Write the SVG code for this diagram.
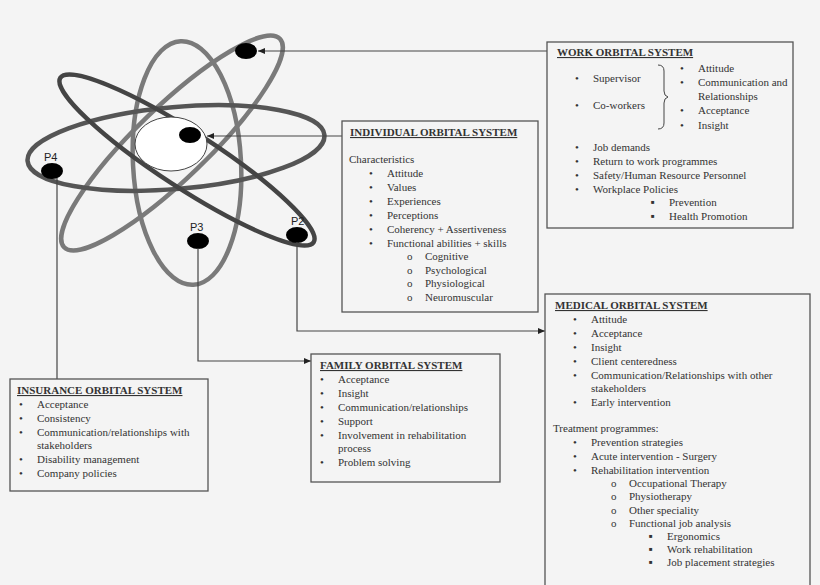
<svg xmlns="http://www.w3.org/2000/svg" width="820" height="585" viewBox="0 0 820 585">
<defs>
<marker id="ah" markerWidth="8" markerHeight="8" refX="7" refY="4" orient="auto" markerUnits="userSpaceOnUse"><path d="M0,1 L7,4 L0,7 Z" fill="#222"/></marker>
<style>
text{font-family:"Liberation Serif",serif;font-size:11px;fill:#333}
.t{font-weight:bold;text-decoration:underline}
.p{font-family:"Liberation Sans",sans-serif;font-size:11px;fill:#222}
.sq{font-size:6px}
.box{fill:#f4f4f4;stroke:#555;stroke-width:1.3}
.ln{fill:none;stroke:#444;stroke-width:1.2}
.orb{fill:none;stroke-width:4.5}
.dot{fill:#000}
</style>
</defs>
<rect width="820" height="585" fill="#f4f4f4"/>
<g id="atom">
<ellipse class="orb" cx="187" cy="163" rx="54" ry="122" transform="rotate(-3 187 163)" stroke="#7a7a7a"/>
<ellipse class="orb" cx="172" cy="143" rx="150" ry="36" transform="rotate(-44 172 143)" stroke="#7a7a7a"/>
<ellipse class="orb" cx="176" cy="148" rx="149" ry="41" transform="rotate(-5 176 148)" stroke="#555"/>
<ellipse class="orb" cx="187" cy="160" rx="151" ry="28" transform="rotate(33 187 160)" stroke="#444"/>
<ellipse cx="171" cy="144" rx="36" ry="27" fill="#fff" stroke="#444" stroke-width="1"/>
<ellipse class="dot" cx="190" cy="135" rx="11" ry="8"/>
<ellipse class="dot" cx="246" cy="51" rx="11" ry="8"/>
<ellipse class="dot" cx="52" cy="171" rx="11" ry="8"/>
<ellipse class="dot" cx="198" cy="241" rx="11" ry="8"/>
<ellipse class="dot" cx="297" cy="235" rx="11" ry="8"/>
<text class="p" x="44" y="161">P4</text>
<text class="p" x="190" y="231">P3</text>
<text class="p" x="291" y="225">P2</text>
</g>
<g id="connectors">
<line class="ln" x1="548" y1="51" x2="258" y2="51" marker-end="url(#ah)"/>
<line class="ln" x1="342" y1="136" x2="207" y2="136" marker-end="url(#ah)"/>
<line class="ln" x1="57" y1="178" x2="57" y2="379"/>
<polyline class="ln" points="198,248 198,361 311,361" marker-end="url(#ah)"/>
<polyline class="ln" points="297,242 297,331 545,331" marker-end="url(#ah)"/>
</g>
<g id="work">
<rect class="box" x="547" y="42" width="246" height="186"/>
<text class="t" x="557" y="56">WORK ORBITAL SYSTEM</text>
<text x="575" y="82">•</text><text x="593" y="82">Supervisor</text>
<text x="575" y="109">•</text><text x="593" y="109">Co-workers</text>
<path d="M658,65 q6,0 6,6 v20 q0,5 4,6 q-4,1 -4,6 v20 q0,6 -6,6" fill="none" stroke="#444" stroke-width="1"/>
<text x="680" y="72">•</text><text x="698" y="72">Attitude</text>
<text x="680" y="86">•</text><text x="698" y="86">Communication and</text>
<text x="698" y="100">Relationships</text>
<text x="680" y="114">•</text><text x="698" y="114">Acceptance</text>
<text x="680" y="129">•</text><text x="698" y="129">Insight</text>
<text x="575" y="151">•</text><text x="593" y="151">Job demands</text>
<text x="575" y="165">•</text><text x="593" y="165">Return to work programmes</text>
<text x="575" y="179">•</text><text x="593" y="179">Safety/Human Resource Personnel</text>
<text x="575" y="193">•</text><text x="593" y="193">Workplace Policies</text>
<text class="sq" x="651" y="204">■</text><text x="669" y="206">Prevention</text>
<text class="sq" x="651" y="218">■</text><text x="669" y="220">Health Promotion</text>
</g>
<g id="individual">
<rect class="box" x="342" y="121" width="196" height="191"/>
<text class="t" x="350" y="136">INDIVIDUAL ORBITAL SYSTEM</text>
<text x="349" y="163">Characteristics</text>
<text x="369" y="177">•</text><text x="387" y="177">Attitude</text>
<text x="369" y="191">•</text><text x="387" y="191">Values</text>
<text x="369" y="205">•</text><text x="387" y="205">Experiences</text>
<text x="369" y="219">•</text><text x="387" y="219">Perceptions</text>
<text x="369" y="233">•</text><text x="387" y="233">Coherency + Assertiveness</text>
<text x="369" y="247">•</text><text x="387" y="247">Functional abilities + skills</text>
<text x="407" y="260">o</text><text x="425" y="260">Cognitive</text>
<text x="407" y="274">o</text><text x="425" y="274">Psychological</text>
<text x="407" y="287">o</text><text x="425" y="287">Physiological</text>
<text x="407" y="301">o</text><text x="425" y="301">Neuromuscular</text>
</g>
<g id="medical">
<rect class="box" x="545" y="294" width="265" height="300"/>
<text class="t" x="555" y="309">MEDICAL ORBITAL SYSTEM</text>
<text x="573" y="323">•</text><text x="591" y="323">Attitude</text>
<text x="573" y="337">•</text><text x="591" y="337">Acceptance</text>
<text x="573" y="351">•</text><text x="591" y="351">Insight</text>
<text x="573" y="365">•</text><text x="591" y="365">Client centeredness</text>
<text x="573" y="379">•</text><text x="591" y="379">Communication/Relationships with other</text>
<text x="591" y="392">stakeholders</text>
<text x="573" y="406">•</text><text x="591" y="406">Early intervention</text>
<text x="553" y="432">Treatment programmes:</text>
<text x="573" y="446">•</text><text x="591" y="446">Prevention strategies</text>
<text x="573" y="460">•</text><text x="591" y="460">Acute intervention - Surgery</text>
<text x="573" y="474">•</text><text x="591" y="474">Rehabilitation intervention</text>
<text x="611" y="487">o</text><text x="629" y="487">Occupational Therapy</text>
<text x="611" y="500">o</text><text x="629" y="500">Physiotherapy</text>
<text x="611" y="514">o</text><text x="629" y="514">Other speciality</text>
<text x="611" y="527">o</text><text x="629" y="527">Functional job analysis</text>
<text class="sq" x="649" y="538">■</text><text x="667" y="540">Ergonomics</text>
<text class="sq" x="649" y="551">■</text><text x="667" y="553">Work rehabilitation</text>
<text class="sq" x="649" y="564">■</text><text x="667" y="566">Job placement strategies</text>
</g>
<g id="family">
<rect class="box" x="311" y="354" width="189" height="128"/>
<text class="t" x="320" y="369">FAMILY ORBITAL SYSTEM</text>
<text x="320" y="383">•</text><text x="338" y="383">Acceptance</text>
<text x="320" y="397">•</text><text x="338" y="397">Insight</text>
<text x="320" y="411">•</text><text x="338" y="411">Communication/relationships</text>
<text x="320" y="425">•</text><text x="338" y="425">Support</text>
<text x="320" y="439">•</text><text x="338" y="439">Involvement in rehabilitation</text>
<text x="338" y="452">process</text>
<text x="320" y="466">•</text><text x="338" y="466">Problem solving</text>
</g>
<g id="insurance">
<rect class="box" x="10" y="379" width="198" height="112"/>
<text class="t" x="17" y="394">INSURANCE ORBITAL SYSTEM</text>
<text x="19" y="408">•</text><text x="37" y="408">Acceptance</text>
<text x="19" y="422">•</text><text x="37" y="422">Consistency</text>
<text x="19" y="436">•</text><text x="37" y="436">Communication/relationships with</text>
<text x="37" y="449">stakeholders</text>
<text x="19" y="463">•</text><text x="37" y="463">Disability management</text>
<text x="19" y="477">•</text><text x="37" y="477">Company policies</text>
</g>
</svg>
